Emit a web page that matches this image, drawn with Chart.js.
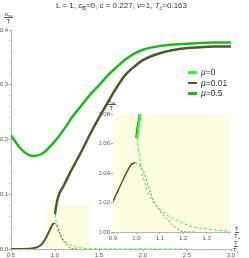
<!DOCTYPE html>
<html>
<head>
<meta charset="utf-8">
<script src="https://cdn.jsdelivr.net/npm/chart.js@4.4.1/dist/chart.umd.min.js"></script>
<style>
  html, body { margin: 0; padding: 0; background: #fff; }
  #wrap { position: relative; width: 249px; height: 258px; font-family: "Liberation Sans", Arial, sans-serif; color: #333; }
  canvas { position: absolute; left: 0; top: 0; }
  .title { position: absolute; left: 0; width: 243px; top: 1px; text-align: center; font-size: 8px; white-space: nowrap; }
  .frac { position: absolute; display: flex; flex-direction: column; align-items: center; font-size: 6px; line-height: 1; color: #333; }
  .frac .num { border-bottom: 0.8px solid #555; padding: 0 0.5px; }
  sub { font-size: 70%; vertical-align: -0.3em; line-height: 0; }
  .legend { position: absolute; left: 188px; top: 67px; font-size: 8.5px; }
  .legend div { display: flex; align-items: center; height: 10.5px; }
  .legend .sw { display: inline-block; width: 9px; height: 2.5px; margin-right: 4px; }
</style>
</head>
<body>
<div id="wrap">
  <canvas id="main" width="249" height="258"></canvas>
  <canvas id="inset" width="249" height="258"></canvas>
  <div class="title">L = 1, c<sub>B</sub>=0, c = 0.227, <i>ν</i>=1, <i>T</i><sub><i>c</i></sub>=0.163</div>
  <div class="frac" style="left:4px; top:11px;"><span class="num">σ<sub>xx</sub></span><span>T</span></div>
  <div class="frac" style="left:233px; top:240px;"><span class="num">T</span><span>T<sub>c</sub></span></div>
  <div class="frac" style="left:107px; top:98px;"><span class="num">σ<sub>xx</sub></span><span>T</span></div>
  <div class="frac" style="left:234px; top:226px;"><span class="num">T</span><span>T<sub>c</sub></span></div>
  <div class="legend">
    <div><span class="sw" style="background:#33f533"></span><i>μ</i>=0</div>
    <div><span class="sw" style="background:#4b5a28"></span><i>μ</i>=0.01</div>
    <div><span class="sw" style="background:#1db81d"></span><i>μ</i>=0.5</div>
  </div>
</div>
<script>
// mu = 0.5
const tMu05 = [0.5, 0.6, 0.7, 0.77, 0.85, 0.9, 1.0, 1.1, 1.2, 1.3, 1.4, 1.5, 1.6, 1.7, 1.8, 1.9, 2.0, 2.2, 2.4, 2.6, 2.8, 3.0]
const sMu05 = [0.208, 0.185, 0.172, 0.170, 0.174, 0.180, 0.197, 0.218, 0.242, 0.262, 0.282, 0.299, 0.317, 0.332, 0.346, 0.357, 0.364, 0.371, 0.374, 0.376, 0.377, 0.377]

// mu = 0.01, lower branch (solid), unstable part (dashed), upper branch (solid)
const tLow01 = [0.5, 0.6, 0.7, 0.75, 0.8, 0.85, 0.9, 0.93, 0.96, 0.98, 0.995]
const sLow01 = [0, 0, 0.0005, 0.0015, 0.0035, 0.009, 0.021, 0.031, 0.041, 0.046, 0.047]
const tDash01 = [0.995, 1.01, 1.029, 1.045, 1.06, 1.072, 1.1, 1.135, 1.171, 1.2, 1.25]
const sDash01 = [0.047, 0.0455, 0.042, 0.034, 0.027, 0.0215, 0.0145, 0.0081, 0.0025, 0.0002, 0]
const tUp01 = [1.0, 1.005, 1.01, 1.015, 1.025, 1.04, 1.06, 1.09, 1.13, 1.17, 1.21, 1.25, 1.3, 1.4, 1.5, 1.6, 1.7, 1.8, 1.9, 2.0, 2.2, 2.4, 2.6, 2.8, 3.0]
const sUp01 = [0.064, 0.07, 0.075, 0.08, 0.088, 0.097, 0.105, 0.113, 0.126, 0.139, 0.151, 0.163, 0.178, 0.21, 0.24, 0.268, 0.295, 0.318, 0.333, 0.345, 0.358, 0.365, 0.368, 0.37, 0.37]

// mu = 0, dashed branch and start of upper branch
const tDash0 = [1.003, 1.01, 1.022, 1.04, 1.055, 1.072, 1.1, 1.135, 1.171, 1.24, 1.313, 1.39, 1.5, 1.8, 2.2, 2.5]
const sDash0 = [0.0635, 0.054, 0.042, 0.031, 0.025, 0.0206, 0.0155, 0.011, 0.0081, 0.0036, 0.0018, 0.0007, 0.0003, 0.0001, 0, 0]
const tUp0 = [1.003, 1.008, 1.012, 1.017, 1.03]
const sUp0 = [0.0635, 0.07, 0.075, 0.08, 0.09]

// zoom window shown in the inset
const boxT = [0.9, 1.4]
const boxS = [0.08, 0.08]

const xMajor = [0.5, 1.0, 1.5, 2.0, 2.5, 3.0]
const xLabels = ["0.5", "1.0", "1.5", "2.0", "2.5", "3.0"]
const yMajor = [0, 0.1, 0.2, 0.3, 0.4]
const yLabels = ["0.0", "0.1", "0.2", "0.3", "0.4"]
const insetXMajor = [0.9, 1.0, 1.1, 1.2, 1.3]
const insetXLabels = ["0.9", "1.0", "1.1", "1.2", "1.3"]
const insetYMajor = [0, 0.02, 0.04, 0.06, 0.08]
const insetYLabels = ["0.00", "0.02", "0.04", "0.06", "0.08"]

const lime = "#33f533", olive = "#4b5a28", green = "#1db81d", yellow = "#fdfde2"
const axisColor = "#b5b5b5", labelColor = "#555"

const pts = (xs, ys) => xs.map((x, i) => ({ x, y: ys[i] }))

function line(xs, ys, color, width, extra = {}) {
  return {
    data: pts(xs, ys), borderColor: color, borderWidth: width,
    pointRadius: 0, fill: false, tension: 0.4, cubicInterpolationMode: "monotone",
    ...extra
  }
}

function minorRange(from, to, step) {
  const out = []
  for (let v = from; v <= to + step / 2; v += step) out.push(Math.round(v / step) * step)
  return out
}

function axis(min, max, major, labels, minor, size, isX) {
  const labelOf = (v) => {
    const i = major.findIndex((m) => Math.abs(m - v) < 1e-9)
    return i >= 0 ? labels[i] : ""
  }
  return {
    type: "linear", min, max,
    afterBuildTicks: (s) => { s.ticks = minor.map((value) => ({ value })) },
    afterFit: (s) => { if (isX) s.height = size; else s.width = size },
    border: { color: axisColor, width: 1 },
    grid: {
      drawOnChartArea: false, tickLength: 2,
      tickColor: (ctx) => labelOf(ctx.tick ? ctx.tick.value : NaN) ? "#999" : "#d6d6d6"
    },
    ticks: {
      autoSkip: false, maxRotation: 0, minRotation: 0, padding: 1,
      color: labelColor, font: { size: 6, family: "Liberation Sans" },
      callback: (v) => labelOf(v)
    }
  }
}

const common = {
  responsive: false, animation: false, events: [],
  plugins: { legend: { display: false }, tooltip: { enabled: false } }
}

new Chart(document.getElementById("main"), {
  type: "line",
  data: { datasets: [
    line(tUp01, sUp01, olive, 2.5, { order: 1 }),
    line(tLow01, sLow01, olive, 2, { order: 2 }),
    line(tDash01, sDash01, olive, 1, { order: 3, borderDash: [2, 1.5] }),
    line(tMu05, sMu05, green, 2.5, { order: 4 }),
    line(tDash0, sDash0, lime, 1, { order: 5, borderDash: [3, 2] }),
    line(boxT, boxS, "transparent", 0, { order: 9, fill: "origin", backgroundColor: yellow, tension: 0 })
  ] },
  options: {
    ...common,
    layout: { padding: { left: 0, right: 18, top: 30, bottom: 0 } },
    scales: {
      x: axis(0.5, 3.0, xMajor, xLabels, minorRange(0.5, 3.0, 0.1), 9, true),
      y: axis(0, 0.4, yMajor, yLabels, minorRange(0, 0.4, 0.02), 11, false)
    }
  }
})

const insetBg = {
  id: "insetBg",
  beforeDatasetsDraw(chart) {
    const { ctx, chartArea: a } = chart
    ctx.save()
    ctx.fillStyle = yellow
    ctx.fillRect(a.left, a.top, a.width, a.height)
    ctx.restore()
  }
}

new Chart(document.getElementById("inset"), {
  type: "line",
  data: { datasets: [
    line(tUp0, sUp0, lime, 2.5, { order: 1 }),
    line(tUp01, sUp01, olive, 2.5, { order: 2 }),
    line(tLow01, sLow01, olive, 1.5, { order: 3 }),
    line(tDash01, sDash01, "#8a8f6a", 1, { order: 4, borderDash: [2.5, 1.5] }),
    line(tDash0, sDash0, lime, 1, { order: 5, borderDash: [3, 2] })
  ] },
  options: {
    ...common,
    layout: { padding: { left: 99, right: 19, top: 114, bottom: 16 } },
    scales: {
      x: axis(0.9, 1.4, insetXMajor, insetXLabels, minorRange(0.9, 1.4, 0.1), 10, true),
      y: axis(0, 0.08, insetYMajor, insetYLabels, minorRange(0, 0.08, 0.02), 14, false)
    }
  },
  plugins: [insetBg]
})
</script>
</body>
</html>
